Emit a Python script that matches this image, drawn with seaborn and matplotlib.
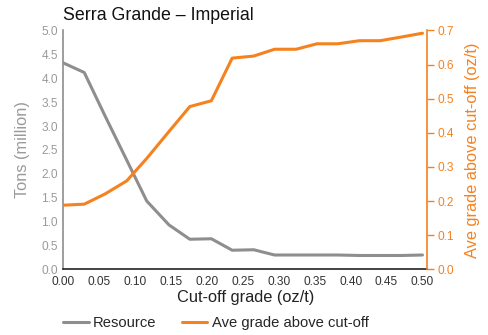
import matplotlib
matplotlib.use("Agg")
import matplotlib.pyplot as plt
import seaborn as sns
import pandas as pd
from matplotlib.lines import Line2D

# cut-off grade (oz/t)
cutoff = [0.000, 0.029, 0.058, 0.088, 0.116, 0.147, 0.176, 0.206, 0.235,
          0.265, 0.294, 0.324, 0.353, 0.382, 0.412, 0.441, 0.471, 0.500]
# resource tonnage (million tons)
tons = [4.32, 4.12, 3.21, 2.29, 1.43, 0.93, 0.63, 0.64, 0.40,
        0.41, 0.30, 0.30, 0.30, 0.30, 0.29, 0.29, 0.29, 0.30]
# average grade above cut-off (oz/t)
grade = [0.188, 0.191, 0.221, 0.259, 0.325, 0.404, 0.477, 0.494, 0.619,
         0.625, 0.645, 0.645, 0.661, 0.661, 0.670, 0.670, 0.681, 0.692]
xticks = [0.00, 0.05, 0.10, 0.15, 0.20, 0.25, 0.30, 0.35, 0.40, 0.45, 0.50]

GREY = "#8e8e8e"
ORANGE = "#f5821f"
MUTED = "#9a9a9a"

sns.set_theme(style="white")
plt.rcParams["font.family"] = ["Liberation Sans", "DejaVu Sans"]

df = pd.DataFrame({"cutoff": cutoff, "tons": tons, "grade": grade})

fig, ax = plt.subplots(figsize=(4.88, 3.35), dpi=100)
fig.subplots_adjust(left=0.13, right=0.876, bottom=0.196, top=0.909)
ax2 = ax.twinx()

sns.lineplot(data=df, x="cutoff", y="tons", ax=ax, color=GREY, lw=2.2)
sns.lineplot(data=df, x="cutoff", y="grade", ax=ax2, color=ORANGE, lw=2.2)

ax.set_xlim(0, 0.507)
ax.set_ylim(0, 5.0)
ax2.set_ylim(0, 0.7)
ax.set_xticks(xticks)
ax.set_xticklabels([f"{t:.2f}" for t in xticks])
ax.set_yticks([i * 0.5 for i in range(11)])
ax.set_yticklabels([f"{i * 0.5:.1f}" for i in range(11)])
ax2.set_yticks([i / 10 for i in range(8)])
ax2.set_yticklabels([f"{i / 10:.1f}" for i in range(8)])

ax.tick_params(axis="x", length=0, labelsize=8.6, colors="#333333", pad=5)
ax.tick_params(axis="y", length=0, labelsize=8.6, colors=MUTED, pad=4)
ax2.tick_params(axis="y", length=5, width=1, labelsize=8.6, colors=ORANGE, pad=2)

for a in (ax, ax2):
    a.spines["top"].set_visible(False)
ax.spines["left"].set_color(GREY)
ax.spines["bottom"].set_color("#222222")
ax.spines["right"].set_visible(False)
ax2.spines["left"].set_visible(False)
ax2.spines["bottom"].set_visible(False)
ax2.spines["right"].set_color(ORANGE)
ax2.spines["right"].set_linewidth(1.2)
ax.spines["left"].set_linewidth(1.2)
ax.spines["bottom"].set_linewidth(1.2)

ax.set_xlabel("Cut-off grade (oz/t)", fontsize=11.8, color="#222222", labelpad=1)
ax.set_ylabel("Tons (million)", fontsize=11.8, color=MUTED, labelpad=8)
ax2.set_ylabel("Ave grade above cut-off (oz/t)", fontsize=11.8, color=ORANGE, labelpad=8)

fig.text(0.13, 0.953, "Serra Grande \u2013 Imperial", fontsize=12.8, color="#111111",
         ha="left", va="center")

handles = [Line2D([], [], color=GREY, lw=2.2), Line2D([], [], color=ORANGE, lw=2.2)]
fig.legend(handles, ["Resource", "Ave grade above cut-off"], loc="center",
           bbox_to_anchor=(0.442, 0.036), ncol=2, frameon=False, fontsize=10.6,
           handlelength=1.75, columnspacing=1.7, handletextpad=0.3)

fig.savefig("out.png", dpi=100)
